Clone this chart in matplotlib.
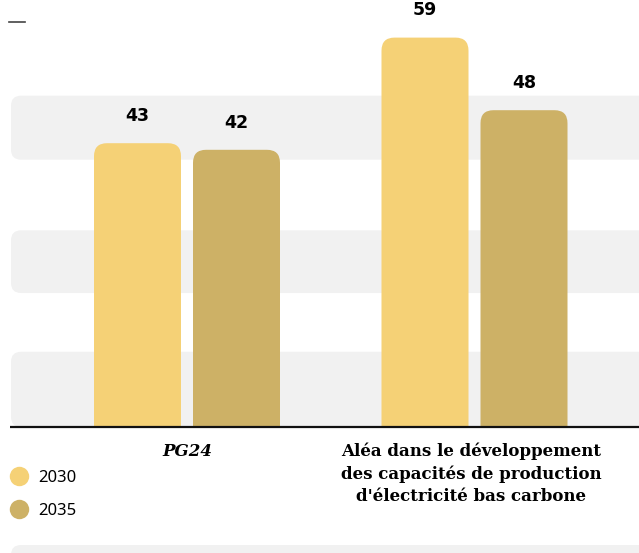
import matplotlib.pyplot as plt
import numpy as np
from matplotlib.patches import FancyBboxPatch, Rectangle
from matplotlib.lines import Line2D

# data
categories = ['PG24', "Aléa dans le développement\ndes capacités de production\nd'électricité bas carbone"]
series_names = ['2030', '2035']
values_2030 = [43, 59]
values_2035 = [42, 48]
colors = ['#f5d176', '#cdb166']
band_ranges = [(0, 11.4), (20.3, 29.8), (40.5, 50.2)]

# layout (x in pixels, y in data units)
W, H = 639, 553
base_px = 427
scale = 6.6  # px per unit
bar_w = 87
gap = 12
group_x = [187 + 287.5 * i for i in range(len(categories))]

fig = plt.figure(figsize=(W / 100, H / 100), dpi=100)
ax = fig.add_axes([0, 0, 1, 1])
ax.set_xlim(0, W)
ax.set_ylim(-(H - base_px) / scale, base_px / scale)
ax.axis('off')
asp = 1 / scale

# grey bands
for lo, hi in band_ranges:
	ax.add_patch(FancyBboxPatch((11, lo), 700, hi - lo,
		boxstyle='round,pad=0,rounding_size=10', mutation_aspect=asp,
		fc='#f1f1f1', ec='none', zorder=0))
# bottom band
bot = -(545 - base_px) / scale
ax.add_patch(FancyBboxPatch((11, bot - 6), 700, 6,
	boxstyle='round,pad=0,rounding_size=10', mutation_aspect=asp,
	fc='#f1f1f1', ec='none', zorder=0))

# bars (rounded top only: draw below baseline and clip)
for s, vals in enumerate([values_2030, values_2035]):
	for i, v in enumerate(vals):
		x0 = group_x[i] - gap / 2 - bar_w if s == 0 else group_x[i] + gap / 2
		p = FancyBboxPatch((x0, -5), bar_w, v + 5,
			boxstyle='round,pad=0,rounding_size=13', mutation_aspect=asp,
			fc=colors[s], ec='none', zorder=2)
		ax.add_patch(p)
		clip = Rectangle((x0 - 1, 0), bar_w + 2, v + 5, transform=ax.transData)
		p.set_clip_path(clip)
		ax.text(x0 + bar_w / 2, v + 2.75, str(v), ha='center', va='bottom',
			fontsize=12.5, fontweight='bold', family='DejaVu Sans', color='black', zorder=3)

# baseline
ax.plot([10, W], [0, 0], color='#111111', lw=1.6, zorder=4, solid_capstyle='butt')

# category labels
ax.text(group_x[0], -(443 - base_px) / scale, categories[0], ha='center', va='top',
	fontsize=12, fontweight='bold', fontstyle='italic', family='DejaVu Serif')
ax.text(group_x[1] - 3, -(443 - base_px) / scale, categories[1], ha='center', va='top',
	fontsize=12, fontweight='bold', family='DejaVu Serif', linespacing=1.36)

# legend
handles = [Line2D([], [], marker='o', ls='none', markersize=14, mfc=c, mec='none') for c in colors]
fig.legend(handles, series_names, loc='upper left', bbox_to_anchor=(4 / W, 1 - 465 / H),
	frameon=False, handletextpad=0.55, labelspacing=1.0,
	borderaxespad=0, handlelength=1.2, borderpad=0.3,
	prop={'family': 'Noto Sans', 'weight': 'normal', 'size': 12})

# top-left dash
ax.plot([9, 25], [(base_px - 22) / scale] * 2, color='#444444', lw=1.2)

fig.savefig('out.png', dpi=100)
